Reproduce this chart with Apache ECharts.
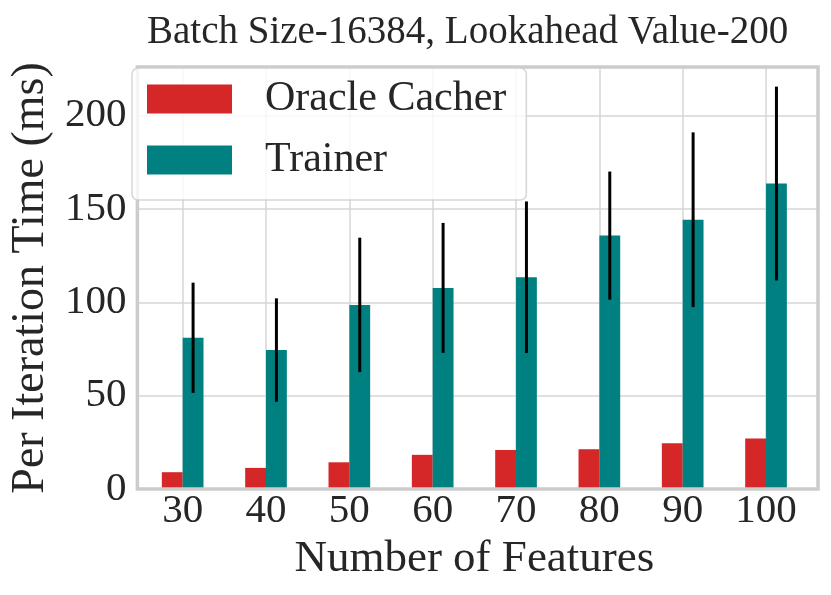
<!DOCTYPE html>
<html><head><meta charset="utf-8">
<script src="https://cdn.jsdelivr.net/npm/echarts@6/dist/echarts.min.js"></script>
<style>html,body{margin:0;padding:0;background:#fff}#c{width:831px;height:595px}</style>
</head><body><div id="c"></div>
<script>
const categories = ['30', '40', '50', '60', '70', '80', '90', '100'];
const oracleCacher = [9.0, 11.3, 14.3, 18.3, 20.9, 21.3, 24.5, 27.0];
const trainer = [81.0, 74.4, 98.6, 107.7, 113.4, 135.7, 144.2, 163.6];
const trainerErr = [29.5, 27.7, 36.0, 34.8, 40.6, 34.3, 46.8, 51.9];
const yMin = 0, yMax = 226, yStep = 50;

const FONT = 'Liberation Serif';
const TXT = '#262626';
const errData = trainer.map((v, i) => [i, v - trainerErr[i], v + trainerErr[i]]);

const chart = echarts.init(document.getElementById('c'), null, {renderer: 'canvas'});
chart.setOption({
  backgroundColor: '#ffffff',
  animation: false,
  title: {
    text: 'Batch Size-16384, Lookahead Value-200',
    left: 142, top: 8,
    textStyle: {fontFamily: FONT, fontSize: 39, fontWeight: 'normal', color: TXT}
  },
  legend: {
    orient: 'vertical',
    left: 132, top: 68,
    padding: [10, 20, 19, 15],
    itemWidth: 85, itemHeight: 29, itemGap: 19,
    icon: 'rect',
    backgroundColor: 'rgba(255,255,255,0.8)',
    borderColor: 'rgba(204,204,204,0.8)',
    borderWidth: 1.5,
    borderRadius: 6,
    textStyle: {fontFamily: FONT, fontSize: 42, color: TXT, lineHeight: 29, padding: [0, 0, 0, 28]},
    data: ['Oracle Cacher', 'Trainer']
  },
  grid: [
    {left: 131, right: 13, top: 67, bottom: 106, show: true, z: 3,
     backgroundColor: 'transparent', borderColor: '#cccccc', borderWidth: 3.5},
    {left: 141, right: 23.3, top: 67, bottom: 106, show: false}
  ],
  xAxis: [
    {gridIndex: 0, type: 'value', min: 0, max: 1, show: false},
    {gridIndex: 1, type: 'category', data: categories,
     name: 'Number of Features', nameLocation: 'middle', nameGap: 45,
     nameTextStyle: {fontFamily: FONT, fontSize: 45, color: TXT},
     axisLine: {show: false}, axisTick: {show: false},
     axisLabel: {fontFamily: FONT, fontSize: 41, color: TXT, margin: 2},
     splitLine: {show: true, alignWithLabel: true, lineStyle: {color: '#d6d6d6', width: 1.5}}
    }
  ],
  yAxis: [
    {gridIndex: 0, type: 'value', min: yMin, max: yMax, interval: yStep,
     name: 'Per Iteration Time (ms)', nameLocation: 'middle', nameGap: 78,
     nameTextStyle: {fontFamily: FONT, fontSize: 46, color: TXT},
     axisLine: {show: false}, axisTick: {show: false},
     axisLabel: {fontFamily: FONT, fontSize: 41, color: TXT, margin: 11, showMaxLabel: false},
     splitLine: {show: true, lineStyle: {color: '#d6d6d6', width: 1.5}}
    },
    {gridIndex: 1, type: 'value', min: yMin, max: yMax, interval: yStep, show: false}
  ],
  series: [
    {name: 'Oracle Cacher', type: 'bar', xAxisIndex: 1, yAxisIndex: 1,
     data: oracleCacher, barWidth: '25%', barGap: '0%',
     itemStyle: {color: '#d62728'}},
    {name: 'Trainer', type: 'bar', xAxisIndex: 1, yAxisIndex: 1,
     data: trainer, barWidth: '25%', barGap: '0%',
     itemStyle: {color: '#008080'}},
    {name: 'Trainer error', type: 'custom', xAxisIndex: 1, yAxisIndex: 1, z: 3,
     data: errData,
     encode: {x: 0, y: [1, 2]},
     renderItem: function (params, api) {
       const x = api.value(0);
       const lo = api.coord([x, api.value(1)]);
       const hi = api.coord([x, api.value(2)]);
       const off = api.size([1, 0])[0] * 0.125;
       return {type: 'line',
         shape: {x1: lo[0] + off, y1: lo[1], x2: hi[0] + off, y2: hi[1]},
         style: {stroke: '#000000', lineWidth: 3}};
     }}
  ]
});
</script>
</body></html>
